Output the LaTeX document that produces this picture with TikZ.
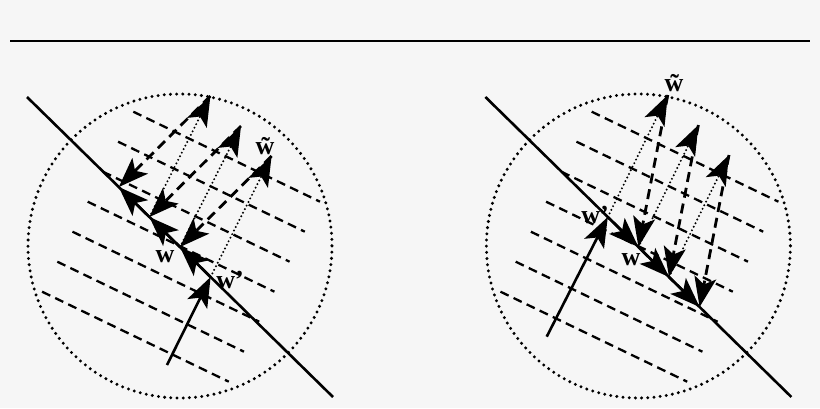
\documentclass[tikz,border=0pt]{standalone}
\usepackage{fontspec}
\setmainfont{Liberation Serif}
\usetikzlibrary{arrows.meta}
\definecolor{bg}{RGB}{246,246,246}
\begin{document}
\begin{tikzpicture}[x=1pt,y=-1pt,
  tipstyle/.style={-{Stealth[length=30pt,width=22pt,inset=7pt]}},
  rulestyle/.style={line width=1.6pt},
  constraint/.style={line width=2.6pt},
  contour/.style={line width=2.3pt, dash pattern=on 9pt off 5.5pt},
  ball/.style={line width=3.3pt, line cap=round, dash pattern=on 0pt off 6.2pt},
  gradstep/.style={tipstyle, line width=2.2pt, line cap=round, dash pattern=on 0pt off 4pt},
  projstep/.style={tipstyle, line width=2.8pt, dash pattern=on 10pt off 6pt},
  movestep/.style={tipstyle, line width=2.6pt},
  lbl/.style={font=\fontsize{26}{26}\selectfont\bfseries, inner sep=0pt}
]
\fill[bg] (0,0) rectangle (820,408);
\useasboundingbox (0,0) rectangle (820,408);

% top rule
\coordinate (ruleA) at (10,41);
\coordinate (ruleB) at (810,41);
\draw[rulestyle] (ruleA) -- (ruleB);

% ---------- backgrounds (left and right) ----------
\foreach \dx/\nm in {0/L,458.4/R}{
  \begin{scope}[xshift=\dx]
    \draw[ball] (180,246) circle[radius=152];
    \foreach \i in {0,...,6}{
      \draw[contour] (133.3-15.2*\i,111.7+30*\i) -- ++(186.7,90);
    }
    \coordinate (\nm line0) at (27,97);
    \coordinate (\nm line1) at (333,397);
    \draw[constraint] (\nm line0) -- (\nm line1);
  \end{scope}
}

% ---------- left diagram ----------
\coordinate (LS) at (167,365);
\coordinate (LW) at (210.6,277);
\coordinate (LA) at (180,247);
\coordinate (LB) at (149.4,217);
\coordinate (LC) at (118.8,187);
\coordinate (LT1) at (271.6,156);
\coordinate (LT2) at (241,126);
\coordinate (LT3) at (210.4,96);

\draw[gradstep] (LW) -- (LT1);
\draw[gradstep] (LA) -- (LT2);
\draw[gradstep] (LB) -- (LT3);
\draw[projstep] (LT1) -- (LA);
\draw[projstep] (LT2) -- (LB);
\draw[projstep] (LT3) -- (LC);
\draw[movestep] (LS) -- (LW);
\draw[movestep] (LW) -- (LA);
\draw[movestep] (LA) -- (LB);
\draw[movestep] (LB) -- (LC);

\node[lbl] (Lw) at (165,257) {w};
\node[lbl] (Lwp) at (230,280) {w’};
\node[lbl] (Lwt) at (265,146) {\~{w}};

% ---------- right diagram ----------
\coordinate (RS) at (546.7,336.7);
\coordinate (RW) at (607.8,217);
\coordinate (RA) at (638.4,247);
\coordinate (RB) at (669,277);
\coordinate (RC) at (699.6,307);
\coordinate (RT1) at (667.8,95);
\coordinate (RT2) at (698.4,125);
\coordinate (RT3) at (729,155);

\draw[gradstep] (RW) -- (RT1);
\draw[gradstep] (RA) -- (RT2);
\draw[gradstep] (RB) -- (RT3);
\draw[projstep] (RT1) -- (RA);
\draw[projstep] (RT2) -- (RB);
\draw[projstep] (RT3) -- (RC);
\draw[movestep] (RS) -- (RW);
\draw[movestep] (RW) -- (RA);
\draw[movestep] (RA) -- (RB);
\draw[movestep] (RB) -- (RC);

\node[lbl] (Rwp) at (595,215) {w’};
\node[lbl] (Rw) at (631,260) {w};
\node[lbl] (Rwt) at (674,83) {\~{w}};
\end{tikzpicture}
\end{document}
